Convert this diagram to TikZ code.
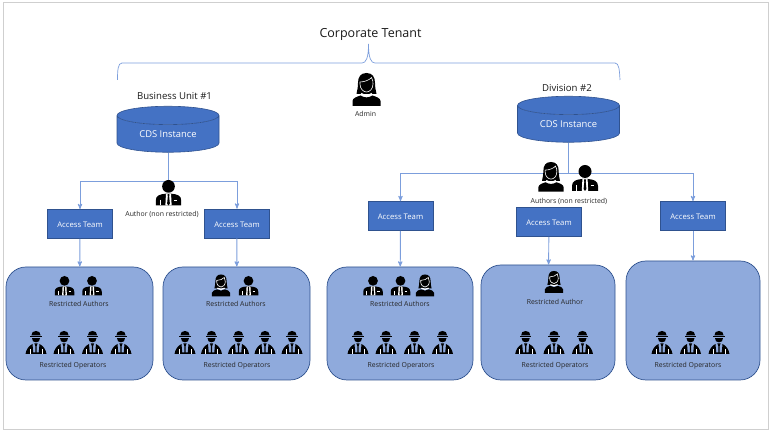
\documentclass[tikz,border=0pt]{standalone}
\usepackage{fontspec}
\setmainfont{Open Sans}
\usetikzlibrary{arrows,shapes.geometric}

\definecolor{teamblue}{HTML}{4472C4}
\definecolor{teamedge}{HTML}{2F528F}
\definecolor{grouplight}{HTML}{8FAADC}
\definecolor{linkblue}{HTML}{7C9EDC}
\definecolor{framegray}{HTML}{CFCFCF}

\tikzset{
  pics/man/.style={code={
    \fill[black] (0,6.5) circle (6.5);
    \fill[black] (-13,26) -- (-13,21) .. controls (-13,16) and (-9,14.5) .. (-3,14) -- (3,14)
      .. controls (9,14.5) and (13,16) .. (13,21) -- (13,26) -- cycle;
    \fill[white] (-2.6,14) -- (2.6,14) -- (3.2,26) -- (-3.2,26) -- cycle;
    \fill[black] (-1,14.5) -- (1,14.5) -- (.7,17) -- (1.4,24) -- (0,26) -- (-1.4,24) -- (-.7,17) -- cycle;
    \draw[white,line width=.7pt] (-8.5,20) -- (-8.5,26) (5.5,20.5) -- (9,20.5);
  }},
  pics/woman/.style={code={
    \fill[black] (0,0) .. controls (6,0) and (8.5,4) .. (8.5,10) .. controls (8.5,15) and (9.5,18) .. (10,21)
      -- (-10,21) .. controls (-9.5,18) and (-8.5,15) .. (-8.5,10) .. controls (-8.5,4) and (-6,0) .. (0,0) -- cycle;
    \draw[white,line width=.6pt] (-6.5,9) .. controls (-2,9) and (3,7) .. (5,4.5) .. controls (6.5,7) and (6.5,9) .. (6.5,11)
      .. controls (6.5,16) and (3,19) .. (0,19) .. controls (-3,19) and (-6.5,16) .. (-6.5,11) -- cycle;
    \fill[white] (-5,20) .. controls (-2.5,22) and (2.5,22) .. (5,20) -- (6,21.5) .. controls (2,24) and (-2,24) .. (-6,21.5) -- cycle;
    \fill[black] (-14,33) -- (-14,28) .. controls (-14,25) and (-9,23.5) .. (-6,22.5)
      .. controls (-2,25) and (2,25) .. (6,22.5) .. controls (9,23.5) and (14,25) .. (14,28) -- (14,33) -- cycle;
  }},
  pics/worker/.style={code={
    \fill[black] (-4.6,4.5) .. controls (-4.6,1.5) and (-3,0) .. (0,0) .. controls (3,0) and (4.6,1.5) .. (4.6,4.5) -- cycle;
    \fill[black] (-5.6,5) rectangle (5.6,6.2);
    \fill[black] (-4,7.2) -- (4,7.2) .. controls (4,10) and (2.5,11.3) .. (0,11.3) .. controls (-2.5,11.3) and (-4,10) .. (-4,7.2) -- cycle;
    \fill[black] (-10.5,23) .. controls (-9.8,18.5) and (-7.5,15) .. (-3.5,13) -- (-2.8,21.3) -- (2.8,21.3) -- (3.5,13)
      .. controls (7.5,15) and (9.8,18.5) .. (10.5,23) -- cycle;
    \fill[black] (-1.6,12.5) -- (1.6,12.5) -- (.7,15) -- (.7,22) -- (-.7,22) -- (-.7,15) -- cycle;
    \draw[white,line width=.6pt] (-6.2,18) -- (-6.2,23) (6.2,18) -- (6.2,23);
  }},
  team node/.style={rectangle,fill=teamblue,draw=teamedge,line width=.6pt,text=white,text height=8pt,text depth=0pt,
    font=\fontsize{7.7}{9}\selectfont,minimum width=65pt,minimum height=29pt,inner sep=0pt},
  group node/.style={rectangle,rounded corners=20pt,fill=grouplight,draw=teamedge,line width=.7pt,inner sep=0pt},
  cds node/.style={cylinder,shape border rotate=90,cylinder uses custom fill,cylinder body fill=teamblue,
    cylinder end fill=teamblue,draw=teamedge,line width=.6pt,text=white,aspect=.32,
    minimum width=102pt,minimum height=46pt,inner sep=0pt,font=\fontsize{9.4}{10}\selectfont},
  title node/.style={font=\fontsize{9.6}{11}\selectfont,text=black!90},
  small node/.style={font=\fontsize{6.9}{8}\selectfont,text=black!85,inner sep=0pt,yshift=-1pt},
  link/.style={draw=linkblue,line width=.9pt,->,>=stealth',shorten >=0pt},
  plain link/.style={draw=linkblue,line width=.9pt}
}

\begin{document}
\begin{tikzpicture}[x=1pt,y=-1pt]
  \useasboundingbox (0,0) rectangle (772,435);
  \node[draw=framegray,line width=1pt,minimum width=765pt,minimum height=427pt,inner sep=0pt] (frame) at (385.5,216.5) {};

  \node[font=\fontsize{12.5}{14}\selectfont,text=black!90] (tenant) at (370.5,34) {Corporate Tenant};
  \coordinate (tip) at (368.5,44);
  \coordinate (leftend) at (117.5,80);
  \coordinate (rightend) at (620,80);
  \draw[plain link,line width=.7pt] (leftend) .. controls (117.5,70) and (118,63) .. (122,63) -- (362,63)
    .. controls (366,63) and (368.5,58) .. (tip) .. controls (368.5,58) and (371,63) .. (375,63) -- (615,63)
    .. controls (619,63) and (619.5,70) .. (rightend);

  % tenant admin
  \pic (admin) at (366.5,73) {woman};
  \node[small node] (adminlbl) at (365.5,112.5) {Admin};

  \node[title node] (bu) at (174.5,96.5) {Business Unit \#1};
  \node[cds node] (cds1) at (168,134) {CDS Instance};
  \node[title node] (div) at (567,88) {Division \#2};
  \node[cds node] (cds2) at (568.5,124) {CDS Instance};

  \node[team node] (at1) at (80,224) {Access Team};
  \node[team node] (at2) at (237,223.5) {Access Team};
  \node[team node] (at3) at (400.5,216) {Access Team};
  \node[team node] (at4) at (549,222) {Access Team};
  \node[team node] (at5) at (693,216) {Access Team};

  \node[group node,minimum width=147pt,minimum height=113pt] (grp1) at (79.5,323.5) {};
  \node[group node,minimum width=147pt,minimum height=113pt] (grp2) at (236.5,323.5) {};
  \node[group node,minimum width=146pt,minimum height=113pt] (grp3) at (400,323.5) {};
  \node[group node,minimum width=134pt,minimum height=115pt] (grp4) at (548,322.5) {};
  \node[group node,minimum width=134pt,minimum height=119pt] (grp5) at (693,320.5) {};

  % connectors
  \coordinate (j1) at (168,181);
  \coordinate (j2) at (568.5,173);
  \draw[plain link] (cds1) -- (j1);
  \draw[link] (j1) -| (at1);
  \draw[link] (j1) -| (at2);
  \draw[plain link] (cds2) -- (j2);
  \draw[link] (j2) -| (at3);
  \draw[link] (j2) -| (at5);
  \draw[link] (at1) -- (grp1);
  \draw[link] (at2) -- (grp2);
  \draw[link] (at3) -- (grp3);
  \draw[link] (at4) -- (grp4);
  \draw[link] (at5) -- (grp5);

  % authors without restriction
  \pic[scale=.98] (auth1) at (168.5,180) {man};
  \node[small node] (auth1lbl) at (162,213) {Author (non restricted)};
  \pic[scale=.9] (auth2) at (551,162) {woman};
  \pic[scale=1] (auth3) at (585,165) {man};
  \node[small node] (auth2lbl) at (569,200) {Authors (non restricted)};

  % restricted authors
  \pic[scale=.75] (ra1) at (64.5,276) {man};
  \pic[scale=.75] (ra2) at (92,276) {man};
  \node[small node] (ra1lbl) at (79,303) {Restricted Authors};
  \pic[scale=.66] (ra3) at (221,274.5) {woman};
  \pic[scale=.75] (ra4) at (248.5,276) {man};
  \node[small node] (ra2lbl) at (236,303) {Restricted Authors};
  \pic[scale=.75] (ra5) at (373,276) {man};
  \pic[scale=.75] (ra6) at (400.5,276) {man};
  \pic[scale=.66] (ra7) at (425,274.5) {woman};
  \node[small node] (ra3lbl) at (400,303) {Restricted Authors};
  \pic[scale=.66] (ra8) at (554,271) {woman};
  \node[small node] (ra4lbl) at (555,300.5) {Restricted Author};

  % restricted operators
  \foreach \x/\n in {36/a,64/b,92.5/c,121/d}
    \pic (op1\n) at (\x,331) {worker};
  \node[small node] (op1lbl) at (73,365) {Restricted Operators};
  \foreach \x/\n in {185/a,211.5/b,238.5/c,265/d,292/e}
    \pic (op2\n) at (\x,331) {worker};
  \node[small node] (op2lbl) at (237,365) {Restricted Operators};
  \foreach \x/\n in {358/a,386/b,414.5/c,442.5/d}
    \pic (op3\n) at (\x,331) {worker};
  \node[small node] (op3lbl) at (401,365) {Restricted Operators};
  \foreach \x/\n in {525.7/a,554/b,582.5/c}
    \pic (op4\n) at (\x,331) {worker};
  \node[small node] (op4lbl) at (555,365) {Restricted Operators};
  \foreach \x/\n in {662/a,690.5/b,719/c}
    \pic (op5\n) at (\x,331) {worker};
  \node[small node] (op5lbl) at (688,365) {Restricted Operators};

\end{tikzpicture}
\end{document}
